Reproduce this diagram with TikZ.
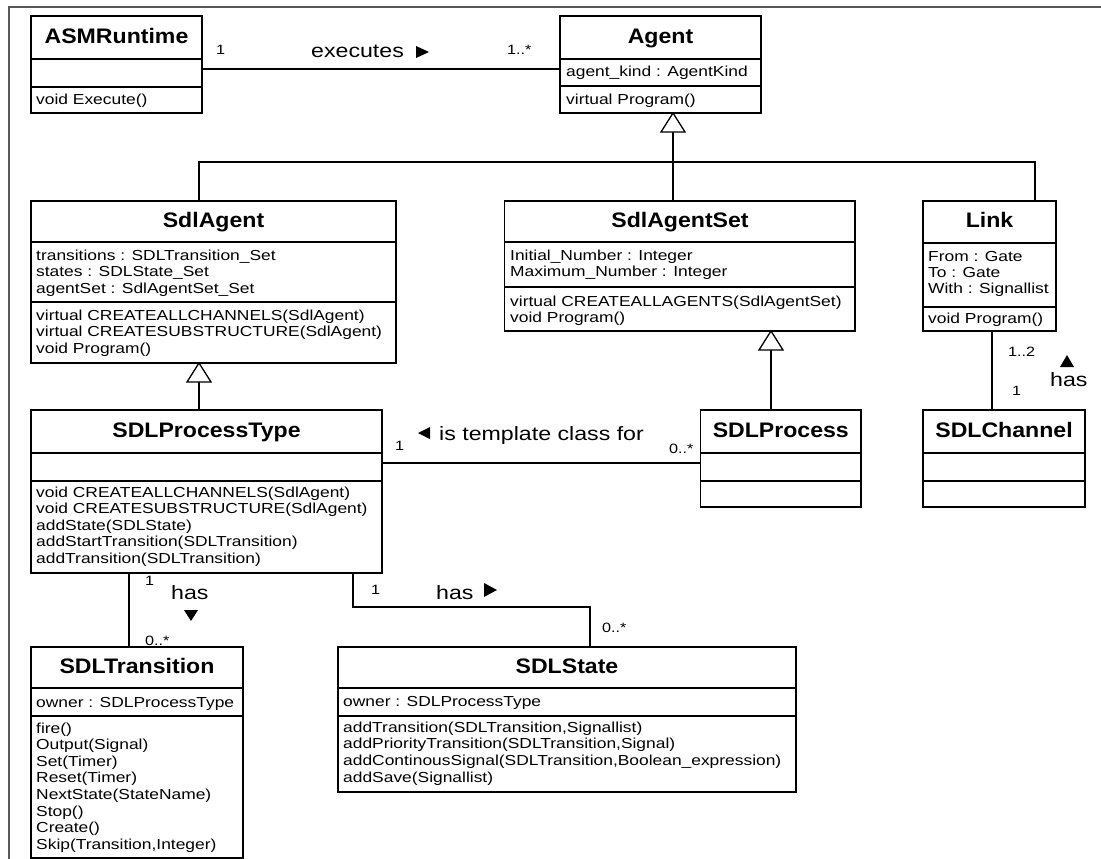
\documentclass[tikz,border=0pt]{standalone}
\usepackage{fontspec}
\setmainfont{Liberation Sans}
\newfontfamily\bodyfont[FakeStretch=1.2]{Liberation Sans}
\newfontfamily\titlefont[FakeStretch=1.1]{Liberation Sans}

\tikzset{
  cls/.style={draw, line width=1.4pt, inner sep=0pt, outer sep=0pt, anchor=north west},
  sep/.style={line width=1.2pt},
  conn/.style={line width=1.3pt},
  gen/.style={draw, fill=white, line width=1.3pt, line join=miter},
  ttl/.style={font=\titlefont\bfseries\fontsize{21}{24}\selectfont, inner sep=0pt, anchor=base},
  txt/.style={font=\bodyfont\fontsize{14.5}{16.7}\selectfont, inner sep=0pt, anchor=base west},
  lbl/.style={font=\bodyfont\fontsize{19.3}{22}\selectfont, inner sep=0pt, anchor=base west},
  mult/.style={font=\bodyfont\fontsize{13.5}{16}\selectfont, inner sep=0pt, anchor=base west},
  frame/.style={draw=black!65, line width=2pt},
}

% class box: name, left, top, right, bottom, compartment dividers
\newcommand\umlbox[6]{%
  \node[cls, minimum width={(#4-#2)*1pt}, minimum height={(#5-#3)*1pt}] (#1) at (#2,#3) {};
  \foreach \d in {#6} \draw[sep] (#1.west |- 0,\d) -- (#1.east |- 0,\d);
}

\begin{document}
\begin{tikzpicture}[x=1pt, y=-1pt]
\useasboundingbox (0,0) rectangle (1101,859);

% page frame
\draw[frame] (8.6,859) -- (8.6,7) -- (1101,7);

% ---------- classes ----------
\umlbox{asm}{31}{16}{202}{113}{59,87}
\node[ttl] (asm-t) at (116.5,43.5) {ASMRuntime};
\node[txt] (asm-m) at (36,105) {void Execute()};

\umlbox{agent}{560}{16}{761}{113}{59,86}
\node[ttl] (agent-t) at (660.5,43.5) {Agent};
\node[txt] (agent-a) at (566,77) {agent\_kind : AgentKind};
\node[txt] (agent-m) at (566,104) {virtual Program()};

\umlbox{sdlagent}{31}{201}{396}{363}{242,302}
\node[ttl] (sdlagent-t) at (213.5,227.5) {SdlAgent};
\foreach \t [count=\i from 0] in {transitions : SDLTransition\_Set, states : SDLState\_Set, agentSet : SdlAgentSet\_Set}
  \node[txt] (sdlagent-a\i) at (36,{260+\i*16.5}) {\t};
\foreach \t [count=\i from 0] in {virtual CREATEALLCHANNELS(SdlAgent), virtual CREATESUBSTRUCTURE(SdlAgent), void Program()}
  \node[txt] (sdlagent-m\i) at (36,{320+\i*16.5}) {\t};

\umlbox{agentset}{504.6}{201}{855}{331}{242,287}
\node[ttl] (agentset-t) at (680,227.5) {SdlAgentSet};
\foreach \t [count=\i from 0] in {Initial\_Number : Integer, Maximum\_Number : Integer}
  \node[txt] (agentset-a\i) at (510,{260+\i*16.7}) {\t};
\foreach \t [count=\i from 0] in {virtual CREATEALLAGENTS(SdlAgentSet), void Program()}
  \node[txt] (agentset-m\i) at (510,{306+\i*16.7}) {\t};

\umlbox{link}{923}{201}{1056}{331}{243,307}
\node[ttl] (link-t) at (989.5,227.5) {Link};
\foreach \t [count=\i from 0] in {From : Gate, To : Gate, With : Signallist}
  \node[txt] (link-a\i) at (928,{261+\i*16.3}) {\t};
\node[txt] (link-m) at (928,323) {void Program()};

\umlbox{ptype}{31}{410}{382}{573}{453,481}
\node[ttl] (ptype-t) at (206.5,437.5) {SDLProcessType};
\foreach \t [count=\i from 0] in {void CREATEALLCHANNELS(SdlAgent), void CREATESUBSTRUCTURE(SdlAgent), addState(SDLState), addStartTransition(SDLTransition), addTransition(SDLTransition)}
  \node[txt] (ptype-m\i) at (36,{497+\i*16.5}) {\t};

\umlbox{process}{700.6}{410}{861}{507}{453,481}
\node[ttl] (process-t) at (780.8,437.5) {SDLProcess};

\umlbox{channel}{923}{410}{1085}{507}{453,481}
\node[ttl] (channel-t) at (1004,437.5) {SDLChannel};

\umlbox{trans}{31}{647}{243}{858}{688,716}
\node[ttl] (trans-t) at (137,673.5) {SDLTransition};
\node[txt] (trans-a) at (36,707) {owner : SDLProcessType};
\foreach \t [count=\i from 0] in {fire(), Output(Signal), Set(Timer), Reset(Timer), NextState(StateName), Stop(), Create(), {Skip(Transition,Integer)}}
  \node[txt] (trans-m\i) at (36,{733+\i*16.6}) {\t};

\umlbox{state}{338}{647}{796}{792}{688,716}
\node[ttl] (state-t) at (567,673.5) {SDLState};
\node[txt] (state-a) at (343,706) {owner : SDLProcessType};
\foreach \t [count=\i from 0] in {{addTransition(SDLTransition,Signallist)}, {addPriorityTransition(SDLTransition,Signal)}, {addContinousSignal(SDLTransition,Boolean\_expression)}, addSave(Signallist)}
  \node[txt] (state-m\i) at (343,{732+\i*16.8}) {\t};

% ---------- association: executes ----------
\coordinate (exL) at (asm.east |- 0,69);
\coordinate (exR) at (agent.west |- 0,69);
\draw[conn] (exL) -- (exR);
\node[mult] (ex-m1) at (216,55) {1};
\node[lbl] (ex-l) at (311,58) {executes};
\fill (416,46) -- (429,52) -- (416,58) -- cycle;
\node[mult] (ex-m2) at (507,55) {1..*};

% ---------- generalisation to Agent ----------
\coordinate (gA) at (agent.south -| 673,0);
\coordinate (gAb) at (673,132);
\coordinate (busL) at (199,162);
\coordinate (busM) at (673,162);
\coordinate (busR) at (1035,162);
\draw[conn] (gAb) -- (busM);
\draw[conn] (sdlagent.north -| busL) -- (busL) -- (busR) -- (link.north -| busR);
\draw[conn] (busM) -- (agentset.north -| busM);
\draw[gen] (gA) -- (685,132) -- (661,132) -- cycle;

% ---------- generalisation to SdlAgent ----------
\coordinate (gB) at (sdlagent.south -| 199,0);
\coordinate (gBb) at (199,382);
\draw[conn] (gBb) -- (ptype.north -| gBb);
\draw[gen] (gB) -- (211,382) -- (187,382) -- cycle;

% ---------- generalisation to SdlAgentSet ----------
\coordinate (gC) at (agentset.south -| 771,0);
\coordinate (gCb) at (771,350);
\draw[conn] (gCb) -- (process.north -| gCb);
\draw[gen] (gC) -- (783,350) -- (759,350) -- cycle;

% ---------- Link has SDLChannel ----------
\draw[conn] (link.south -| 992,0) -- (channel.north -| 992,0);
\node[mult] (lc-m1) at (1008,356) {1..2};
\fill (1060,367) -- (1067,355) -- (1074,367) -- cycle;
\node[lbl] (lc-l) at (1050,386) {has};
\node[mult] (lc-m2) at (1012,395) {1};

% ---------- is template class for ----------
\coordinate (tpL) at (ptype.east |- 0,463);
\draw[conn] (tpL) -- (process.west |- tpL);
\node[mult] (tp-m1) at (395,450) {1};
\fill (430,427) -- (418,433) -- (430,439) -- cycle;
\node[lbl] (tp-l) at (439,440) {is template class for};
\node[mult] (tp-m2) at (669,453) {0..*};

% ---------- SDLProcessType has SDLTransition ----------
\draw[conn] (ptype.south -| 129,0) -- (trans.north -| 129,0);
\node[mult] (pt-m1) at (145,585) {1};
\node[lbl] (pt-l) at (171,599) {has};
\fill (184,610) -- (198,610) -- (191,621) -- cycle;
\node[mult] (pt-m2) at (145,645) {0..*};

% ---------- SDLProcessType has SDLState ----------
\coordinate (psC) at (590,607);
\draw[conn] (ptype.south -| 353,0) |- (psC) -- (state.north -| psC);
\node[mult] (ps-m1) at (371,594) {1};
\node[lbl] (ps-l) at (436,599) {has};
\fill (484,583) -- (497,590) -- (484,597) -- cycle;
\node[mult] (ps-m2) at (602,632) {0..*};
\end{tikzpicture}
\end{document}
